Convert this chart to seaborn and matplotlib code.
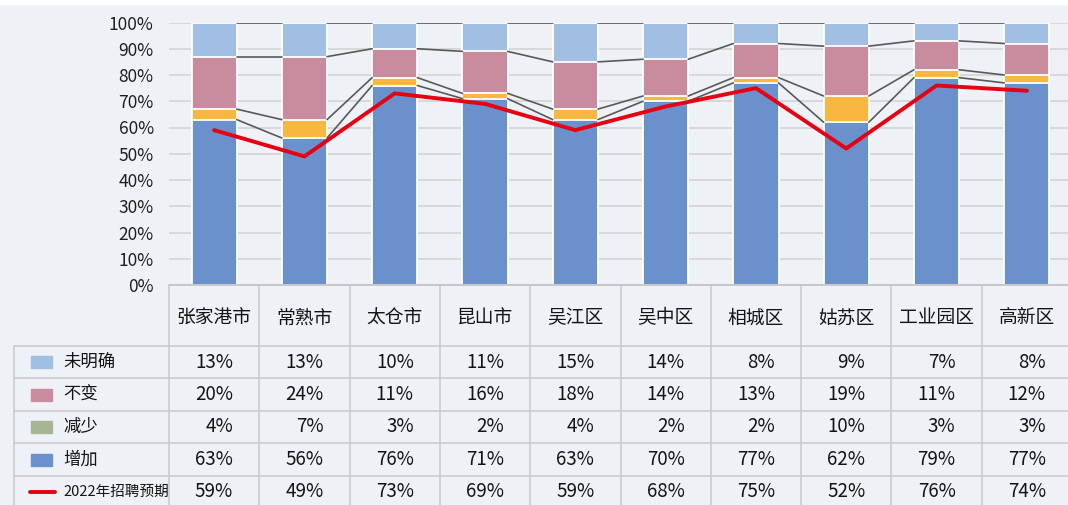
import numpy as np
import pandas as pd
import seaborn as sns
import matplotlib.pyplot as plt

# 数据
cities = ['张家港市', '常熟市', '太仓市', '昆山市', '吴江区', '吴中区', '相城区', '姑苏区', '工业园区', '高新区']
unclear = [13, 13, 10, 11, 15, 14, 8, 9, 7, 8]
same = [20, 24, 11, 16, 18, 14, 13, 19, 11, 12]
decrease = [4, 7, 3, 2, 4, 2, 2, 10, 3, 3]
increase = [63, 56, 76, 71, 63, 70, 77, 62, 79, 77]
expect_2022 = [59, 49, 73, 69, 59, 68, 75, 52, 76, 74]

sns.set_style('white')
plt.rcParams['font.family'] = ['Noto Sans CJK SC', 'DejaVu Sans']

bg = '#EEF2F7'
c_inc, c_dec, c_same, c_unc = '#6A91CB', '#F8B740', '#C98B9E', '#A1BEE3'
c_dec_key = '#A6B594'
grid_c = '#D3D3D3'
line_c = '#595959'
red = '#E60012'

df = pd.DataFrame({'city': cities, 'unc': unclear, 'same': same,
                   'dec': decrease, 'inc': increase, 'exp': expect_2022})
df['c1'] = df['inc']
df['c2'] = df['c1'] + df['dec']
df['c3'] = df['c2'] + df['same']
df['c4'] = df['c3'] + df['unc']

W, H = 1068, 505
fig = plt.figure(figsize=(W / 100, H / 100), dpi=100, facecolor=bg)

x0, x1 = 169, 1072   # 绘图区左右
y0, y1 = 22.5, 285   # 100% 与 0% 的像素位置
colw = (x1 - x0) / len(cities)
pos = [x0 / W, 1 - y1 / H, (x1 - x0) / W, (y1 - y0) / H]

ax = fig.add_axes(pos)
ax.set_facecolor(bg)
for col, color in [('c4', c_unc), ('c3', c_same), ('c2', c_dec), ('c1', c_inc)]:
    sns.barplot(data=df, x='city', y=col, color=color, width=0.5,
                edgecolor='white', linewidth=1.3, saturation=1, ax=ax, zorder=2)
ax.set_xlim(-0.5, len(cities) - 0.5)
ax.set_ylim(0, 100)
ax.set_yticks(np.arange(0, 101, 10))
ax.set_yticklabels([f'{v}%' for v in range(0, 101, 10)], fontsize=12.5, color='#1F1F1F')
ax.yaxis.grid(True, color=grid_c, linewidth=1.2, zorder=0)
ax.set_axisbelow(True)
ax.tick_params(axis='y', length=0, pad=11)
ax.tick_params(axis='x', length=0, labelbottom=False)
ax.set_xlabel('')
ax.set_ylabel('')
for s in ax.spines.values():
    s.set_visible(False)

# 系列线与折线
ov = fig.add_axes(pos)
xs = np.arange(len(cities))
for col in ['c1', 'c2', 'c3', 'c4']:
    v = df[col].values
    for i in range(len(cities) - 1):
        ov.plot([xs[i] + 0.25, xs[i + 1] - 0.25], [v[i], v[i + 1]],
                color=line_c, linewidth=1.2)
sns.lineplot(x=xs, y=df['exp'], color=red, linewidth=2.8, ax=ov)
ov.set_xlim(-0.5, len(cities) - 0.5)
ov.set_ylim(0, 100)
ov.axis('off')

# 顶部白边
fig.add_artist(plt.Rectangle((0, 1 - 4 / H), 1, 4 / H, color='white',
                             transform=fig.transFigure))

# 数据表
tb = fig.add_axes([0, 0, 1, 1])
tb.set_xlim(0, W)
tb.set_ylim(H, 0)
tb.axis('off')
tb.patch.set_alpha(0)

tcol = '#C9C9C9'
txt = '#141414'
row_lines = [346, 378, 411, 443, 476]
row_mid = [362, 394.5, 427, 459.5, 491.5]
for k in range(len(cities) + 1):
    tb.plot([x0 + k * colw] * 2, [y1, H], color=tcol, linewidth=1.1)
for y in row_lines:
    tb.plot([14, W], [y, y], color=tcol, linewidth=1.1)
tb.plot([14, 14], [346, H], color=tcol, linewidth=1.1)
tb.plot([x0, W], [y1, y1], color='#C4C4C4', linewidth=1.3)

for k, c in enumerate(cities):
    tb.text(x0 + (k + 0.5) * colw, 318, c, ha='center', va='center',
            fontsize=13.5, color=txt)

rows = [('未明确', unclear, c_unc), ('不变', same, c_same),
        ('减少', decrease, c_dec_key), ('增加', increase, c_inc)]
for r, (name, vals, color) in enumerate(rows):
    y = row_mid[r]
    tb.add_patch(plt.Rectangle((31, y - 6), 21, 12, color=color))
    tb.text(63, y, name, ha='left', va='center', fontsize=12.5, color=txt)
    for k, v in enumerate(vals):
        tb.text(x0 + (k + 0.5) * colw + 19, y, f'{v}%', ha='right', va='center',
                fontsize=13.5, color=txt)

y = row_mid[4]
tb.plot([30, 55], [y, y], color=red, linewidth=2.8)
tb.text(63, y, '2022年招聘预期', ha='left', va='center', fontsize=10.5, color=txt)
for k, v in enumerate(expect_2022):
    tb.text(x0 + (k + 0.5) * colw + 19, y, f'{v}%', ha='right', va='center',
            fontsize=13.5, color=txt)

fig.savefig('out.png', dpi=100, facecolor=bg)
